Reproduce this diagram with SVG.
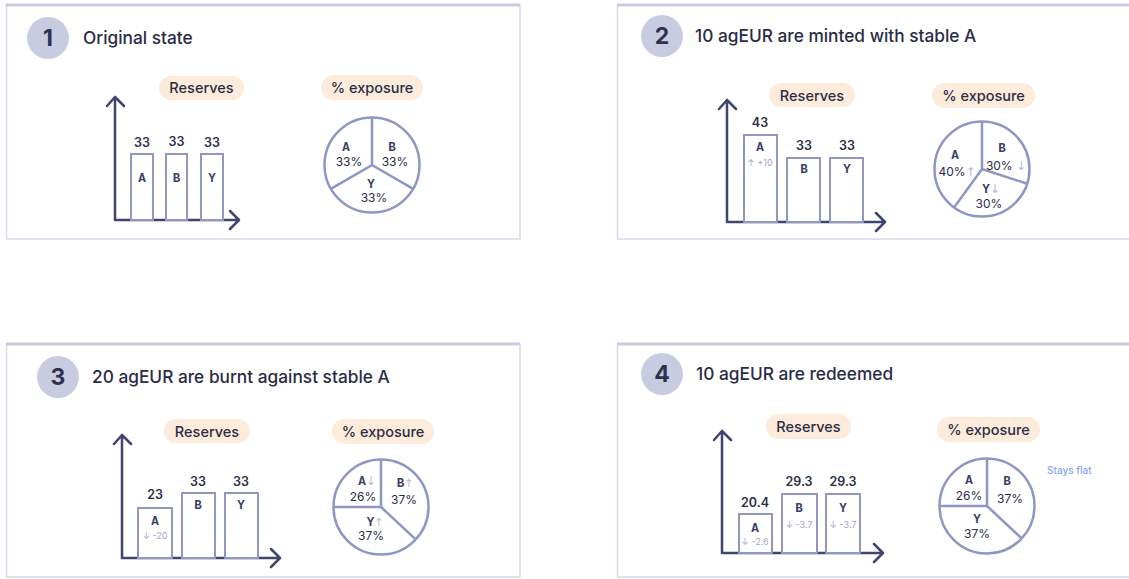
<svg xmlns="http://www.w3.org/2000/svg" width="1129" height="579" viewBox="0 0 1129 579">
<style>
.panel{fill:#fff;stroke:#d8dae9;stroke-width:1.5}
.ptop{stroke:#c9cbe0;stroke-width:3}
.badge{fill:#c9cce0}
.num{font-family:Inter,"Noto Sans",sans-serif;font-weight:700;font-size:23px;fill:#2e3150;text-anchor:middle}
.title{font-family:Inter,"Noto Sans",sans-serif;font-weight:500;font-size:17.3px;fill:#2a2c45}
.pill{fill:#fdebdc}
.pilltxt{font-family:Inter,"Noto Sans",sans-serif;font-weight:500;font-size:14.5px;fill:#2a2c45;text-anchor:middle}
.axis{fill:none;stroke:#3f4470;stroke-width:2.5;stroke-linecap:round;stroke-linejoin:round}
.bar{fill:#fff;stroke:#8f97c2;stroke-width:2}
.val{font-family:Inter,"Noto Sans",sans-serif;font-weight:600;font-size:12.5px;fill:#2a2c45;text-anchor:middle}
.lbl{font-family:"Liberation Mono","DejaVu Sans Mono",monospace;font-weight:700;font-size:12.5px;fill:#3a3e66;text-anchor:middle}
.delta{font-family:Inter,"Noto Sans",sans-serif;font-size:9px;fill:#9ea6cc;text-anchor:middle}
.pie{fill:#fff;stroke:#8e97c4;stroke-width:2.5}
.pieline{stroke:#8e97c4;stroke-width:2.5;fill:none}
.plbl{font-family:"Liberation Mono","DejaVu Sans Mono",monospace;font-weight:700;font-size:12.5px;fill:#3a3e66;text-anchor:middle}
.pct{font-family:Inter,"Noto Sans",sans-serif;font-size:12px;fill:#2a2c45;text-anchor:middle}
.arr{fill:#b4bad8;font-family:"DejaVu Sans",sans-serif;font-weight:400}
.note{font-family:Inter,"Noto Sans",sans-serif;font-size:10px;font-weight:500;fill:#8aa6f0}
</style>

<g id="panel1">
  <rect class="panel" x="6.5" y="5" width="513.5" height="234"/>
  <line class="ptop" x1="6" y1="5" x2="520" y2="5"/>
  <circle class="badge" cx="48" cy="38" r="21"/>
  <text class="num" x="48" y="46">1</text>
  <text class="title" x="83" y="44">Original state</text>
  <rect class="pill" x="159" y="76" width="85" height="24" rx="12"/>
  <text class="pilltxt" x="201.5" y="93">Reserves</text>
  <path class="axis" d="M115,97 V220 H239 M107,106 L115,97 L124,106 M230,211 L239,220 L230,229"/>
  <rect class="bar" x="131" y="154" width="22" height="66"/>
  <rect class="bar" x="166" y="154" width="21" height="66"/>
  <rect class="bar" x="201" y="154" width="22" height="66"/>
  <text class="val" x="142" y="147">33</text>
  <text class="val" x="176.5" y="146">33</text>
  <text class="val" x="212" y="147">33</text>
  <text class="lbl" x="142" y="182">A</text>
  <text class="lbl" x="176.5" y="182">B</text>
  <text class="lbl" x="212" y="182">Y</text>
  <rect class="pill" x="321" y="75" width="102" height="25" rx="12.5"/>
  <text class="pilltxt" x="372" y="93">% exposure</text>
  <circle class="pie" cx="372" cy="165" r="47.5"/>
  <path class="pieline" d="M372,117.5 V165 L330.9,188.8 M372,165 L413.1,188.8"/>
  <text class="plbl" x="346" y="151">A</text>
  <text class="pct" x="349" y="166">33%</text>
  <text class="plbl" x="392" y="151">B</text>
  <text class="pct" x="395" y="166">33%</text>
  <text class="plbl" x="371" y="188">Y</text>
  <text class="pct" x="374" y="202">33%</text>
</g>

<g id="panel2">
  <rect class="panel" x="617.5" y="5" width="513" height="234"/>
  <line class="ptop" x1="617" y1="5" x2="1129" y2="5"/>
  <circle class="badge" cx="662" cy="36" r="21"/>
  <text class="num" x="662" y="44">2</text>
  <text class="title" x="695" y="42">10 agEUR are minted with stable A</text>
  <rect class="pill" x="769" y="83" width="86" height="24" rx="12"/>
  <text class="pilltxt" x="812" y="101">Reserves</text>
  <path class="axis" d="M727,100 V222 H885 M719,109 L727,100 L736,109 M876,213 L885,222 L876,231"/>
  <rect class="bar" x="744" y="135" width="33" height="87"/>
  <rect class="bar" x="787" y="158" width="33" height="64"/>
  <rect class="bar" x="830" y="158" width="33" height="64"/>
  <text class="val" x="760" y="127">43</text>
  <text class="val" x="804" y="150">33</text>
  <text class="val" x="847" y="150">33</text>
  <text class="lbl" x="760" y="151">A</text>
  <text class="delta" x="760" y="166">↑ +10</text>
  <text class="lbl" x="804" y="173">B</text>
  <text class="lbl" x="847" y="173">Y</text>
  <rect class="pill" x="932" y="83" width="103" height="25" rx="12.5"/>
  <text class="pilltxt" x="983.5" y="101">% exposure</text>
  <circle class="pie" cx="982" cy="169" r="47.5"/>
  <path class="pieline" d="M982,121.5 V169 L1027.2,183.7 M982,169 L954.1,207.4"/>
  <text class="plbl" x="955" y="159">A</text>
  <text class="pct" x="957" y="176">40%<tspan class="arr">↑</tspan></text>
  <text class="plbl" x="1002" y="152">B</text>
  <text class="pct" x="1006" y="170">30% <tspan class="arr">↓</tspan></text>
  <text class="plbl" x="991" y="193">Y<tspan class="arr" font-size="12">↓</tspan></text>
  <text class="pct" x="989" y="208">30%</text>
</g>

<g id="panel3">
  <rect class="panel" x="6.5" y="344" width="513.5" height="233"/>
  <line class="ptop" x1="6" y1="344" x2="520" y2="344"/>
  <circle class="badge" cx="58" cy="377" r="21"/>
  <text class="num" x="58" y="385">3</text>
  <text class="title" x="92" y="383">20 agEUR are burnt against stable A</text>
  <rect class="pill" x="164" y="419" width="86" height="24" rx="12"/>
  <text class="pilltxt" x="207" y="437">Reserves</text>
  <path class="axis" d="M122,435 V558 H280 M114,444 L122,435 L131,444 M271,549 L280,558 L271,567"/>
  <rect class="bar" x="138" y="508" width="34" height="50"/>
  <rect class="bar" x="182" y="493" width="33" height="65"/>
  <rect class="bar" x="225" y="493" width="33" height="65"/>
  <text class="val" x="155" y="499">23</text>
  <text class="val" x="198" y="486">33</text>
  <text class="val" x="241" y="486">33</text>
  <text class="lbl" x="155" y="525">A</text>
  <text class="delta" x="155" y="539">↓ -20</text>
  <text class="lbl" x="198" y="509">B</text>
  <text class="lbl" x="241" y="509">Y</text>
  <rect class="pill" x="332" y="419" width="102" height="25" rx="12.5"/>
  <text class="pilltxt" x="383" y="437">% exposure</text>
  <circle class="pie" cx="381" cy="507" r="47.5"/>
  <path class="pieline" d="M381,459.5 V507 H333.5 M381,507 L415.7,539.4"/>
  <text class="plbl" x="367" y="485">A<tspan class="arr" font-size="12">↓</tspan></text>
  <text class="pct" x="363" y="501">26%</text>
  <text class="plbl" x="405" y="487">B<tspan class="arr" font-size="11">↑</tspan></text>
  <text class="pct" x="404" y="504">37%</text>
  <text class="plbl" x="375" y="526">Y<tspan class="arr" font-size="11">↑</tspan></text>
  <text class="pct" x="371" y="540">37%</text>
</g>

<g id="panel4">
  <rect class="panel" x="617.5" y="344" width="513" height="233"/>
  <line class="ptop" x1="617" y1="344" x2="1129" y2="344"/>
  <circle class="badge" cx="662" cy="374" r="21"/>
  <text class="num" x="662" y="382">4</text>
  <text class="title" x="696" y="380">10 agEUR are redeemed</text>
  <rect class="pill" x="766" y="414" width="85" height="25" rx="12.5"/>
  <text class="pilltxt" x="808.5" y="432">Reserves</text>
  <path class="axis" d="M722,431 V553 H883 M714,440 L722,431 L731,440 M874,544 L883,553 L874,562"/>
  <rect class="bar" x="739" y="514" width="33" height="39"/>
  <rect class="bar" x="782" y="494" width="35" height="59"/>
  <rect class="bar" x="826" y="494" width="34" height="59"/>
  <text class="val" x="755" y="507">20.4</text>
  <text class="val" x="799" y="486">29.3</text>
  <text class="val" x="843" y="486">29.3</text>
  <text class="lbl" x="755" y="532">A</text>
  <text class="delta" x="755" y="545">↓ -2.6</text>
  <text class="lbl" x="799" y="512">B</text>
  <text class="delta" x="799" y="528">↓ -3.7</text>
  <text class="lbl" x="843" y="512">Y</text>
  <text class="delta" x="843" y="528">↓ -3.7</text>
  <rect class="pill" x="937" y="417" width="103" height="25" rx="12.5"/>
  <text class="pilltxt" x="988.5" y="435">% exposure</text>
  <circle class="pie" cx="987" cy="506" r="47.5"/>
  <path class="pieline" d="M987,458.5 V506 H939.5 M987,506 L1021.7,538.4"/>
  <text class="plbl" x="969" y="484">A</text>
  <text class="pct" x="969" y="500">26%</text>
  <text class="plbl" x="1007" y="485">B</text>
  <text class="pct" x="1010" y="503">37%</text>
  <text class="plbl" x="977" y="523">Y</text>
  <text class="pct" x="977" y="538">37%</text>
  <text class="note" x="1047" y="474">Stays flat</text>
</g>
</svg>
